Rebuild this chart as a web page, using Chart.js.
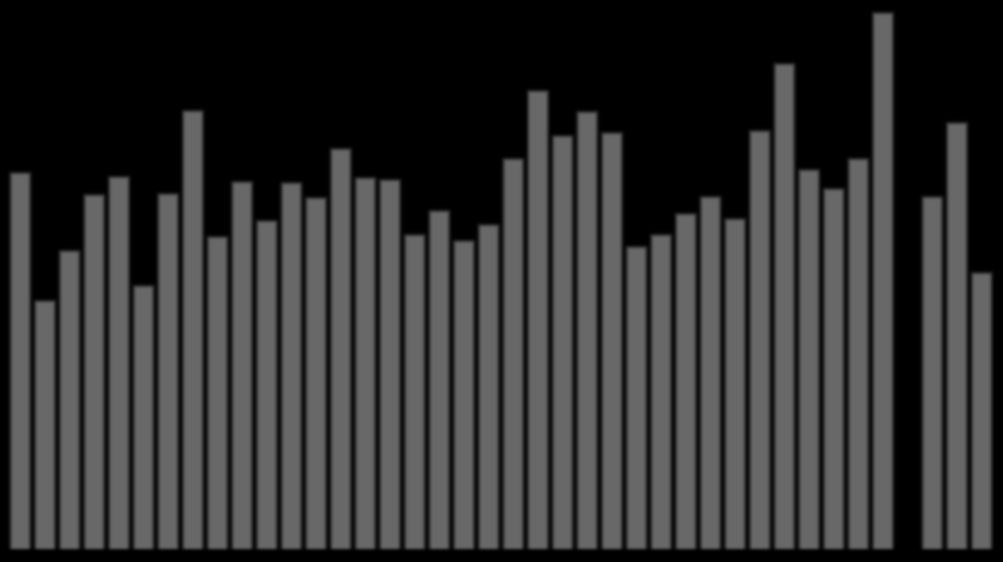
<!DOCTYPE html>
<html>
<head>
<meta charset="utf-8">
<script src="https://cdn.jsdelivr.net/npm/chart.js@4"></script>
<style>
  html, body { margin: 0; padding: 0; background: #000; }
  #wrap { width: 1003px; height: 562px; }
  canvas { filter: blur(1.8px); }
</style>
</head>
<body>
<div id="wrap"><canvas id="myChart"></canvas></div>
<script>
// 40 slots, one empty
var labels = [];
for (var i = 1; i <= 40; i++) labels.push(String(i));

var values = [377, 249, 299, 355, 373, 264, 356, 439, 313, 368,
              329, 367, 352, 401, 372, 370, 315, 339, 309, 325,
              391, 459, 414, 438, 417, 303, 315, 336, 353, 331,
              419, 486, 380, 361, 391, 537, null, 353, 427, 277];

document.addEventListener('DOMContentLoaded', function () {
    var ctx = document.getElementById('myChart').getContext('2d');
    new Chart(ctx, {
        type: 'bar',
        data: {
            labels: labels,
            datasets: [{
                data: values,
                backgroundColor: '#686868',
                borderColor: '#2e2e2e',
                borderWidth: 2,
                barPercentage: 0.9,
                categoryPercentage: 1.0
            }]
        },
        options: {
            responsive: true,
            maintainAspectRatio: false,
            animation: false,
            layout: { padding: { left: 8, right: 9, top: 0, bottom: 13 } },
            plugins: { legend: { display: false }, tooltip: { enabled: false } },
            scales: {
                x: { display: false },
                y: { display: false, min: 0, max: 549 }
            }
        }
    });
});
</script>
</body>
</html>
